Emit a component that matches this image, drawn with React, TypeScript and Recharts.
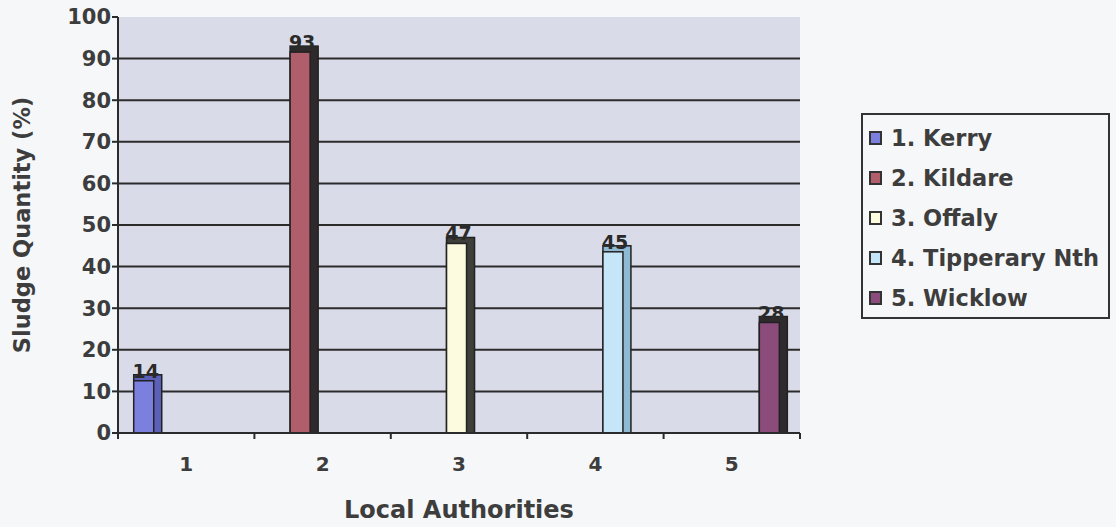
import { Bar, BarChart, CartesianGrid, Label, LabelList, XAxis, YAxis } from 'recharts'

const CATEGORIES = ['1', '2', '3', '4', '5']
const SERIES_NAMES = ['1. Kerry', '2. Kildare', '3. Offaly', '4. Tipperary Nth', '5. Wicklow']
const SERIES_VALUES = [14, 93, 47, 45, 28]
const Y_TICKS = [0, 10, 20, 30, 40, 50, 60, 70, 80, 90, 100]
const GRID_LINES = [10, 20, 30, 40, 50, 60, 70, 80, 90]
const EDGE_TICKS = [0, 1, 2, 3, 4, 5]

const FRONT = ['#7b80de', '#b05d6c', '#fcfbe0', '#c5e6f8', '#8b4c7b']
const SIDE = ['#5b60b8', '#2e2a2c', '#3d3f3a', '#8fb8d2', '#2e2a2e']

const INK = '#3d3d3d'
const FONT = '"DejaVu Sans", Verdana, sans-serif'

// one key per authority, each set only in its own category;
// slot is the category centre on the numeric boundary-tick axis
const data = CATEGORIES.map((name, i) => {
  const row: Record<string, string | number | null> = { name, slot: i + 0.5 }
  SERIES_NAMES.forEach((_, s) => {
    row['s' + s] = s === i ? SERIES_VALUES[s] : null
  })
  return row
})

// front face plus a dark side strip to fake the old 3-D column look
function makeColumn(s: number) {
  return (props: any) => {
    const { x, y, width, height } = props
    if (!height || height <= 0) return <g />
    const bx = x - 2
    const side = 8
    return (
      <g>
        <rect x={bx} y={y} width={width + side} height={height} fill={SIDE[s]} stroke="#222" strokeWidth={1.5} />
        <rect x={bx} y={y + 6} width={width} height={height - 6} fill={FRONT[s]} stroke="#222" strokeWidth={1.5} />
      </g>
    )
  }
}

function LegendBox() {
  return (
    <div
      style={{
        position: 'absolute',
        left: 861,
        top: 113,
        width: 249,
        height: 206,
        border: '2px solid #333',
        boxSizing: 'border-box',
        paddingTop: 3,
        fontFamily: FONT,
      }}
    >
      {SERIES_NAMES.map((n, i) => (
        <div key={n} style={{ display: 'flex', alignItems: 'center', height: 40 }}>
          <span
            style={{
              width: 13,
              height: 14,
              marginLeft: 6,
              marginRight: 9,
              background: FRONT[i],
              border: '2px solid #333',
              boxSizing: 'border-box',
            }}
          />
          <span style={{ fontSize: 22.5, fontWeight: 'bold', color: INK, whiteSpace: 'nowrap' }}>{n}</span>
        </div>
      ))}
    </div>
  )
}

export default function App() {
  return (
    <div style={{ position: 'fixed', left: 0, top: 0, width: 1116, height: 527, background: '#f6f7f9' }}>
      <BarChart
        width={1116}
        height={527}
        data={data}
        margin={{ top: 17, right: 316, left: 0, bottom: 0 }}
        barCategoryGap="13%"
        barGap={0}
      >
        <CartesianGrid
          xAxisId={1}
          vertical={false}
          stroke="#2b2b2b"
          strokeWidth={2}
          fill="#d9dbe8"
          horizontalValues={GRID_LINES}
        />
        {/* boundary ticks between the categories */}
        <XAxis
          xAxisId={0}
          type="number"
          dataKey="slot"
          domain={[0, 5]}
          ticks={EDGE_TICKS}
          interval={0}
          allowDataOverflow
          height={6}
          tickFormatter={() => ''}
          tickSize={6}
          stroke="#2b2b2b"
          strokeWidth={2}
        />
        <XAxis
          xAxisId={1}
          dataKey="name"
          height={88}
          axisLine={false}
          tickLine={false}
          tickMargin={12}
          tick={{ fontSize: 20, fontWeight: 'bold', fill: INK, fontFamily: FONT }}
        >
          <Label
            value="Local Authorities"
            position="insideBottom"
            offset={9}
            style={{ fontSize: 24, fontWeight: 'bold', fill: INK, fontFamily: FONT }}
          />
        </XAxis>
        <YAxis
          domain={[0, 100]}
          ticks={Y_TICKS}
          width={118}
          interval={0}
          stroke="#2b2b2b"
          strokeWidth={2}
          tickSize={6}
          tickMargin={1}
          tick={{ fontSize: 21, fontWeight: 'bold', fill: INK, fontFamily: FONT }}
        >
          <Label
            value="Sludge Quantity (%)"
            angle={-90}
            position="insideLeft"
            offset={22}
            style={{ textAnchor: 'middle', fontSize: 22.5, fontWeight: 'bold', fill: INK, fontFamily: FONT }}
          />
        </YAxis>
        {SERIES_NAMES.map((n, s) => (
          <Bar
            key={n}
            xAxisId={1}
            dataKey={'s' + s}
            name={n}
            fill={FRONT[s]}
            shape={makeColumn(s)}
            isAnimationActive={false}
          >
            <LabelList
              dataKey={'s' + s}
              position="top"
              offset={-3}
              style={{ fontSize: 19, fontWeight: 'bold', fill: '#2a2a2a', fontFamily: FONT }}
            />
          </Bar>
        ))}
      </BarChart>
      <LegendBox />
    </div>
  )
}
